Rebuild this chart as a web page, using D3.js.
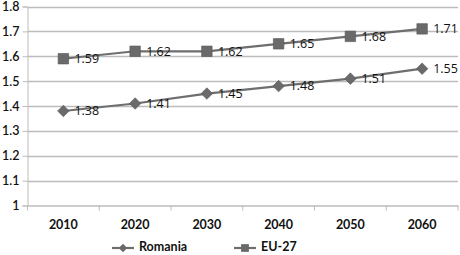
<!DOCTYPE html>
<html><head><meta charset="utf-8">
<script src="https://cdn.jsdelivr.net/npm/d3@7"></script>
<style>body{margin:0;background:#fff}svg{display:block}</style>
</head><body>
<svg id="c" width="460" height="255"></svg>
<script>
const years = ["2010","2020","2030","2040","2050","2060"];
const romania = [1.38,1.41,1.45,1.48,1.51,1.55];
const eu27 = [1.59,1.62,1.62,1.65,1.68,1.71];
const yTicks = [1,1.1,1.2,1.3,1.4,1.5,1.6,1.7,1.8];
const seriesNames = ["Romania","EU-27"];

(function(){
const svg = d3.select("#c");
const mLeft = 27.5, mRight = 458, mTop = 6.5, mBottom = 205.5;
const x = d3.scaleBand().domain(years).range([mLeft, mRight]);
const y = d3.scaleLinear().domain([1, 1.8]).range([mBottom, mTop]);
const gray = "#bcbcbc", lineC = "#6e6e6e", markC = "#6a6a6a";

// gridlines
svg.append("g").selectAll("line").data(yTicks.slice(1)).join("line")
  .attr("x1", mLeft).attr("x2", mRight)
  .attr("y1", d => Math.round(y(d)) + 0.5).attr("y2", d => Math.round(y(d)) + 0.5)
  .attr("stroke", gray).attr("stroke-width", 1.3);

// y axis
const ya = svg.append("g").attr("transform", `translate(${mLeft},0)`)
  .call(d3.axisLeft(y).tickValues(yTicks).tickFormat(d => String(d)).tickSize(5).tickPadding(3));
ya.select(".domain").attr("stroke", gray).attr("stroke-width", 1);
ya.selectAll(".tick line").attr("stroke", gray);
ya.selectAll("text").attr("font-family", "Lato, 'Open Sans', sans-serif").attr("font-size", 12.5)
  .attr("fill", "#111").attr("font-weight", 600);

// x axis
const xa = svg.append("g").attr("transform", `translate(0,${mBottom})`)
  .call(d3.axisBottom(x).tickSize(0).tickPadding(15));
xa.select(".domain").attr("stroke", gray).attr("stroke-width", 1.3);
xa.selectAll("text").attr("font-family", "Lato, 'Open Sans', sans-serif").attr("font-size", 12.5)
  .attr("font-weight", 700).attr("fill", "#111");
// x tick marks at band boundaries
svg.append("g").selectAll("line").data(years.concat(["end"])).join("line")
  .attr("x1", (d,i) => i < years.length ? x(d) : mRight)
  .attr("x2", (d,i) => i < years.length ? x(d) : mRight)
  .attr("y1", mBottom).attr("y2", mBottom + 5)
  .attr("stroke", gray).attr("stroke-width", 1);

const line = d3.line().x((d,i) => x(years[i]) + x.bandwidth()/2).y(d => y(d));

function drawSeries(vals, shape) {
  svg.append("path").datum(vals).attr("d", line).attr("fill", "none")
    .attr("stroke", lineC).attr("stroke-width", 2.2);
  const g = svg.append("g");
  const sym = shape === "square" ? d3.symbol(d3.symbolSquare, 110) : d3.symbol(d3.symbolDiamond2, 85);
  g.selectAll("path").data(vals).join("path")
    .attr("transform", (d,i) => `translate(${x(years[i]) + x.bandwidth()/2},${y(d)})`)
    .attr("d", sym).attr("fill", markC).attr("stroke", "#555").attr("stroke-width", 0.6);
  svg.append("g").selectAll("text").data(vals).join("text")
    .attr("x", (d,i) => x(years[i]) + x.bandwidth()/2 + 11)
    .attr("y", d => y(d) + 1)
    .attr("dominant-baseline", "middle")
    .attr("font-family", "'Open Sans', 'Liberation Sans', sans-serif").attr("font-size", 12.5)
    .attr("fill", "#111")
    .text(d => d.toFixed(2));
}
drawSeries(romania, "diamond");
drawSeries(eu27, "square");

// legend
const legend = [{name: seriesNames[0], shape: "diamond", x0: 112}, {name: seriesNames[1], shape: "square", x0: 234}];
const lg = svg.append("g");
legend.forEach(l => {
  lg.append("line").attr("x1", l.x0).attr("x2", l.x0 + 22).attr("y1", 248).attr("y2", 248)
    .attr("stroke", lineC).attr("stroke-width", 2.2);
  const sym = l.shape === "square" ? d3.symbol(d3.symbolSquare, 60) : d3.symbol(d3.symbolDiamond2, 45);
  lg.append("path").attr("d", sym).attr("transform", `translate(${l.x0 + 11},248)`).attr("fill", markC);
  lg.append("text").attr("x", l.x0 + 27).attr("y", 248).attr("dominant-baseline", "middle")
    .attr("font-family", "Lato, 'Open Sans', sans-serif").attr("font-size", 12.5).attr("font-weight", 700)
    .attr("fill", "#111").text(l.name);
});
})();
</script>
</body></html>
